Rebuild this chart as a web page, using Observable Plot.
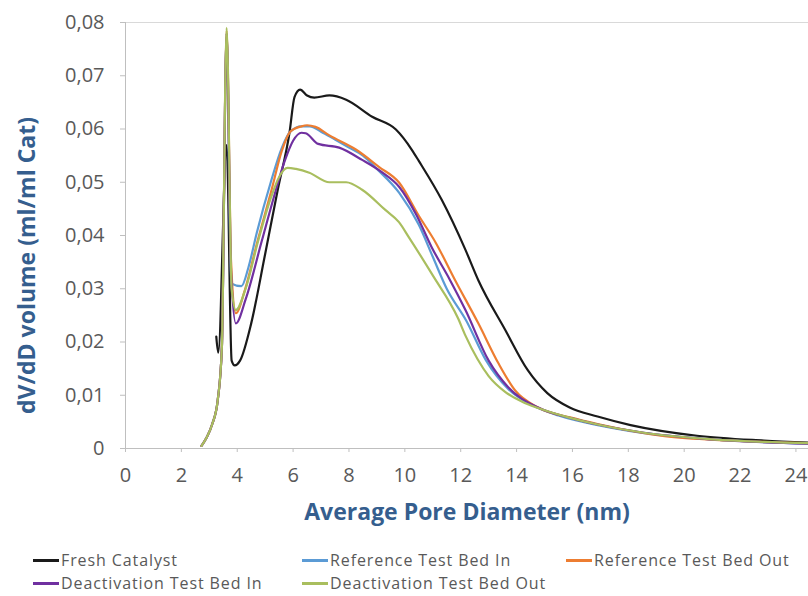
<!DOCTYPE html>
<html>
<head>
<meta charset="utf-8">
<script src="https://cdn.jsdelivr.net/npm/d3@7"></script>
<script src="https://cdn.jsdelivr.net/npm/@observablehq/plot@0.6"></script>
<style>
  html, body { margin: 0; padding: 0; background: #fff; }
  #wrap { position: relative; width: 808px; height: 596px; overflow: hidden; }
  .leg { position: absolute; font-family: "Open Sans", sans-serif; font-size: 16px; letter-spacing: 0.9px; color: #595959; line-height: 20px; height: 20px; white-space: nowrap; display: flex; align-items: center; }
  .sw { display: inline-block; width: 26px; height: 3px; margin-right: 2px; }
</style>
</head>
<body>
<div id="wrap"></div>
<script>
// ---- data ----
const seriesNames = ["Fresh Catalyst", "Reference Test Bed In", "Reference Test Bed Out", "Deactivation Test Bed In", "Deactivation Test Bed Out"];
const seriesColors = ["#1a1a1a", "#5B9BD5", "#ED7D31", "#7030A0", "#A9BE5E"];

const freshX = [3.25, 3.32, 3.62, 3.8, 3.91, 4.1, 4.5, 4.98, 5.45, 5.87, 6.05, 6.25, 6.5, 6.76, 7.3, 7.9, 8.83, 9.68, 10.25, 10.5, 11.32, 12.17, 12.63, 13.6, 14.4, 15.1, 15.9, 16.9, 18.08, 20.46, 22.85, 24.45];
const freshY = [0.021, 0.018, 0.057, 0.0165, 0.0156, 0.0165, 0.0235, 0.036, 0.0486, 0.0593, 0.066, 0.0674, 0.0663, 0.0659, 0.0663, 0.0655, 0.0623, 0.0599, 0.0561, 0.054, 0.0467, 0.0373, 0.0316, 0.0222, 0.0147, 0.0104, 0.0077, 0.006, 0.0044, 0.0024, 0.0015, 0.0011];

const refInX = [2.72, 2.9, 3.1, 3.3, 3.45, 3.62, 3.78, 4.15, 4.4, 4.7, 5.2, 5.6, 5.9, 6.3, 6.6, 7.0, 7.5, 8.0, 8.5, 9.0, 9.8, 10.5, 11.0, 11.5, 12.2, 12.9, 13.7, 14.5, 15.5, 17, 19, 21, 24.45];
const refInY = [0.0005, 0.002, 0.0045, 0.009, 0.019, 0.078, 0.031, 0.0305, 0.034, 0.0405, 0.050, 0.0565, 0.0595, 0.0605, 0.0605, 0.0595, 0.058, 0.0565, 0.055, 0.0525, 0.048, 0.042, 0.036, 0.030, 0.024, 0.0166, 0.0112, 0.0083, 0.0062, 0.0043, 0.0026, 0.0017, 0.0009];

const refOutX = [2.72, 2.9, 3.1, 3.3, 3.45, 3.62, 3.78, 3.95, 4.27, 4.73, 5.23, 5.59, 5.9, 6.3, 6.5, 6.8, 7.3, 8.26, 9.07, 9.8, 10.5, 11.1, 11.8, 12.63, 13.35, 13.95, 14.77, 15.95, 16.9, 19.3, 21.6, 24.45];
const refOutY = [0.0005, 0.002, 0.0045, 0.009, 0.019, 0.0785, 0.035, 0.0254, 0.0297, 0.039, 0.0486, 0.0558, 0.0595, 0.0605, 0.0607, 0.0604, 0.0588, 0.0561, 0.0529, 0.0499, 0.0437, 0.0387, 0.0316, 0.0235, 0.016, 0.0109, 0.0077, 0.0058, 0.0046, 0.0023, 0.0015, 0.001];

const deactInX = [2.72, 2.9, 3.1, 3.3, 3.45, 3.62, 3.78, 3.95, 4.3, 4.88, 5.3, 5.7, 6.0, 6.3, 6.45, 6.9, 7.65, 8.47, 9.2, 9.8, 10.4, 10.96, 11.6, 12.17, 13.0, 13.7, 14.77, 15.95, 16.9, 18.5, 21, 24.45];
const deactInY = [0.0005, 0.002, 0.0045, 0.009, 0.019, 0.078, 0.033, 0.0235, 0.028, 0.039, 0.047, 0.054, 0.0578, 0.0593, 0.0592, 0.0572, 0.0565, 0.0542, 0.0518, 0.0491, 0.044, 0.0378, 0.0318, 0.026, 0.0165, 0.0115, 0.0077, 0.0057, 0.0045, 0.003, 0.0017, 0.0009];

const deactOutX = [2.72, 2.9, 3.1, 3.3, 3.45, 3.62, 3.8, 3.95, 4.3, 4.75, 5.2, 5.5, 5.8, 6.1, 6.58, 7.3, 7.9, 8.47, 9.3, 9.79, 10.14, 11.0, 11.9, 12.17, 12.6, 13.0, 13.6, 14.2, 14.77, 15.95, 16.9, 18.5, 21, 24.45];
const deactOutY = [0.0005, 0.002, 0.0045, 0.009, 0.019, 0.079, 0.03, 0.026, 0.030, 0.039, 0.047, 0.051, 0.0527, 0.0525, 0.0518, 0.050, 0.050, 0.0486, 0.0448, 0.0425, 0.0397, 0.0325, 0.0245, 0.0212, 0.0168, 0.0136, 0.0106, 0.0088, 0.0076, 0.0057, 0.0045, 0.003, 0.0017, 0.001];

const xTicks = [0, 2, 4, 6, 8, 10, 12, 14, 16, 18, 20, 22, 24];
const yTicks = [0, 0.01, 0.02, 0.03, 0.04, 0.05, 0.06, 0.07, 0.08];
const xTitle = "Average Pore Diameter (nm)";
const yTitle = "dV/dD volume (ml/ml Cat)";

// ---- build table ----
const allX = [freshX, refInX, refOutX, deactInX, deactOutX];
const allY = [freshY, refInY, refOutY, deactInY, deactOutY];
const rows = [];
seriesNames.forEach((name, i) => {
  allX[i].forEach((x, j) => rows.push({series: name, x, y: allY[i][j]}));
});

const fmtY = d => d === 0 ? "0" : d.toFixed(2).replace(".", ",");
const titleColor = "#355E8E";

const chart = Plot.plot({
  width: 808,
  height: 530,
  marginLeft: 125,
  marginRight: 0,
  marginTop: 22,
  marginBottom: 82,
  style: {fontFamily: "Open Sans, sans-serif", background: "white", overflow: "visible"},
  x: {domain: [0, 24.45]},
  y: {domain: [0, 0.08]},
  color: {domain: seriesNames, range: seriesColors},
  marks: [
    Plot.ruleY([0.08], {stroke: "#d9d9d9", strokeWidth: 1}),
    Plot.axisX({ticks: xTicks, tickFormat: d => String(d), tickSize: 4, tickPadding: 15, fontSize: 20, stroke: "#bfbfbf", color: "#595959", label: null}),
    Plot.axisY({ticks: yTicks, tickFormat: fmtY, tickSize: 5, tickPadding: 16, fontSize: 20, stroke: "#bfbfbf", color: "#595959", label: null}),
    Plot.ruleX([0], {stroke: "#bfbfbf", strokeWidth: 1}),
    Plot.ruleY([0], {stroke: "#bfbfbf", strokeWidth: 1}),
    Plot.line(rows, {x: "x", y: "y", z: "series", stroke: "series", curve: "monotone-x", strokeWidth: 2.2, clip: true}),
    Plot.text([xTitle], {frameAnchor: "bottom", lineAnchor: "middle", textAnchor: "middle", dy: 64, fontSize: 23, fontWeight: "bold", fill: titleColor}),
    Plot.text([yTitle], {frameAnchor: "left", lineAnchor: "middle", textAnchor: "middle", rotate: -90, dx: -98, dy: 30, fontSize: 23, fontWeight: "bold", fill: titleColor})
  ]
});

const wrap = document.getElementById("wrap");
wrap.appendChild(chart);

// ---- legend ----
const legendPos = [
  {left: 33, top: 550}, {left: 302, top: 550}, {left: 566, top: 550},
  {left: 33, top: 573}, {left: 302, top: 573}
];
seriesNames.forEach((name, i) => {
  const item = document.createElement("div");
  item.className = "leg";
  item.style.left = legendPos[i].left + "px";
  item.style.top = legendPos[i].top + "px";
  const sw = document.createElement("span");
  sw.className = "sw";
  sw.style.background = seriesColors[i];
  item.appendChild(sw);
  item.appendChild(document.createTextNode(name));
  wrap.appendChild(item);
});
</script>
</body>
</html>
